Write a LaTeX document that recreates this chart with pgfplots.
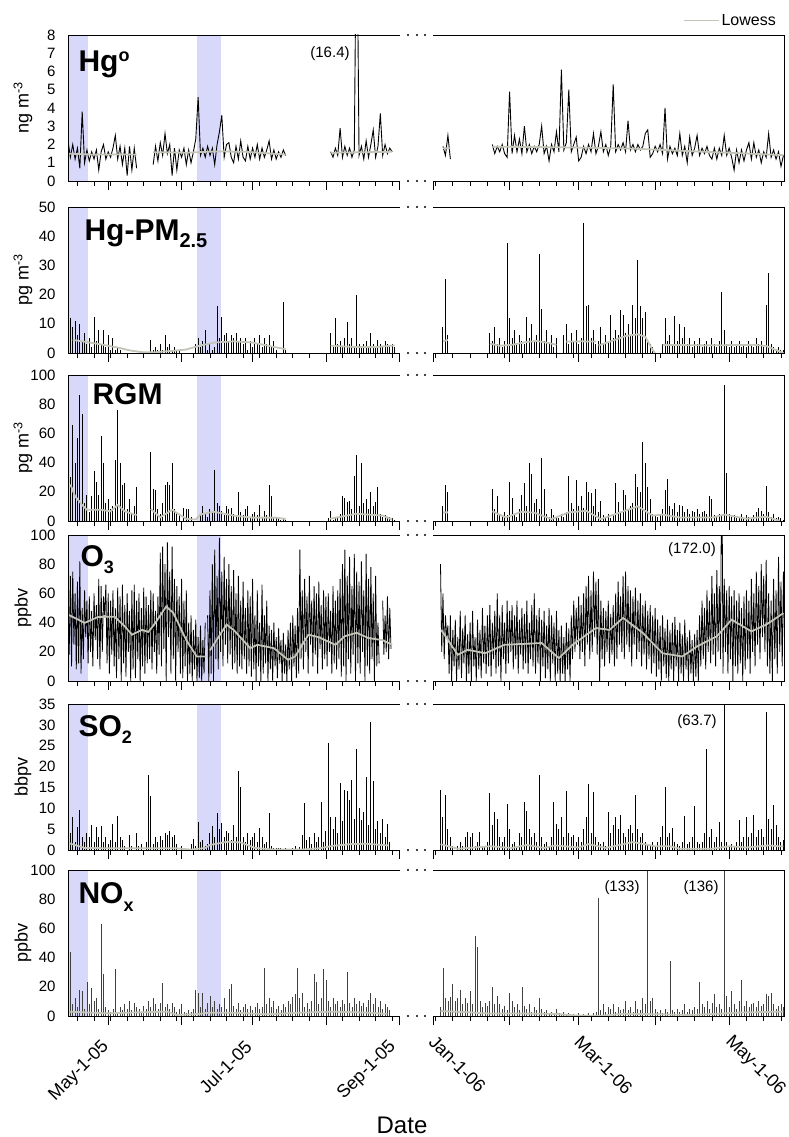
\documentclass[border=0pt]{standalone}
\usepackage{fontspec}
\setmainfont{Liberation Sans}
\usepackage{pgfplots}
\pgfplotsset{compat=1.18}

\definecolor{lowesscol}{RGB}{196,196,184}
\definecolor{shadecol}{RGB}{216,216,250}

% blue periods and the broken frame, in relative axis units
\newcommand{\shades}{%
  \fill[shadecol] (rel axis cs:0,0) rectangle (rel axis cs:0.0279,1);
  \fill[shadecol] (rel axis cs:0.1795,0) rectangle (rel axis cs:0.2130,1);
}
\newcommand{\brokenframe}{%
  \draw[black, line width=0.8pt] (rel axis cs:0.4637,0) -- (rel axis cs:0,0) -- (rel axis cs:0,1) -- (rel axis cs:0.4637,1);
  \draw[black, line width=0.8pt] (rel axis cs:0.5099,0) -- (rel axis cs:1,0) -- (rel axis cs:1,1) -- (rel axis cs:0.5099,1);
  \fill (rel axis cs:0.4749,0) circle[radius=1.1pt];
  \fill (rel axis cs:0.4874,0) circle[radius=1.1pt];
  \fill (rel axis cs:0.4987,0) circle[radius=1.1pt];
  \fill (rel axis cs:0.4749,1) circle[radius=1.1pt];
  \fill (rel axis cs:0.4874,1) circle[radius=1.1pt];
  \fill (rel axis cs:0.4987,1) circle[radius=1.1pt];
}

\tikzset{datelab/.style={font=\fontsize{18}{18}\selectfont, inner sep=0pt}}

\pgfplotsset{
  panel/.style={
    width=716pt, height=146pt, scale only axis, anchor=south west,
    xmin=0, xmax=302.6, ymin=0,
    axis line style={draw=none},
    clip mode=individual,
    unbounded coords=jump,
    xtick={17,48,78,109,140,154.3,186.62,215.82,248.14,279.42},
    minor xtick={4,11,...,137,155.34,162.64,169.94,177.24,184.54,191.84,199.14,206.44,213.73,221.03,228.33,235.63,242.93,250.23,257.53,264.83,272.13,286.72,294.02,301.32},
    xticklabels={},
    tick align=outside,
    xtick pos=left, ytick pos=left,
    major tick length=9pt, minor tick length=5pt,
    tick style={black, line width=0.8pt},
    ytick style={draw=none},
    yticklabel style={font=\fontsize{15}{15}\selectfont},
    /pgf/number format/assume math mode=true,
    ylabel style={at={(axis description cs:-0.063,0.5)}, anchor=center, font=\fontsize{18}{18}\selectfont},
  },
  trace/.style={black, line width=0.9pt, forget plot},
  spike/.style={ycomb, black, line width=1.0pt, forget plot},
  lowess/.style={color=lowesscol, line width=1.8pt},
}

\begin{document}
\begin{tikzpicture}
\path[use as bounding box] (0pt,0pt) rectangle (788pt,-1137pt);

% ---------------- Hg(0) ----------------
\begin{axis}[panel, at={(68pt,-181pt)}, ymax=8, ytick={0,1,...,8},
  ylabel={ng m\textsuperscript{-3}},
  legend style={at={(rel axis cs:1,1)}, anchor=south east, xshift=-6pt, yshift=6pt,
    draw=none, fill=none, inner sep=0pt, font=\fontsize{16}{16}\selectfont},
  legend image code/.code={\draw[#1] (0pt,0pt) -- (35pt,0pt);}]
\shades
\addplot[trace] table[row sep=\\, header=false, x expr=\coordindex, y index=0] {
2.2\\1.3\\2.0\\1.2\\1.8\\0.7\\3.8\\1.0\\1.7\\1.1\\
1.6\\1.2\\1.7\\0.6\\1.6\\2.0\\1.2\\1.6\\1.3\\1.8\\
2.5\\1.2\\1.9\\0.9\\1.8\\0.3\\1.9\\0.6\\1.8\\0.7\\
nan\\nan\\nan\\nan\\nan\\nan\\0.9\\1.9\\1.1\\2.1\\
1.4\\2.6\\1.5\\2.0\\0.3\\1.8\\0.6\\1.7\\1.3\\1.8\\
0.9\\1.7\\1.0\\1.6\\2.3\\4.6\\1.4\\1.8\\1.3\\1.9\\
1.4\\1.8\\0.9\\2.0\\2.7\\3.6\\1.3\\2.0\\2.1\\1.3\\
1.0\\1.9\\1.2\\2.2\\1.3\\1.1\\1.9\\1.2\\1.8\\1.3\\
2.0\\1.2\\1.8\\1.3\\1.7\\2.2\\1.2\\1.7\\1.2\\1.6\\
1.3\\1.7\\1.4\\nan\\nan\\nan\\nan\\nan\\nan\\nan\\
nan\\nan\\nan\\nan\\nan\\nan\\nan\\nan\\nan\\nan\\
nan\\1.6\\1.3\\1.8\\1.4\\2.9\\1.3\\1.9\\1.4\\1.8\\
1.3\\1.7\\16.4\\1.4\\1.9\\1.2\\2.2\\1.3\\2.0\\2.8\\
1.3\\1.9\\3.7\\1.4\\2.0\\1.5\\1.8\\1.6\\
};
\addplot[trace] table[row sep=\\, header=false, x expr=154.3+1.0427*\coordindex, y index=0] {
nan\\nan\\nan\\nan\\1.9\\1.4\\2.5\\1.2\\nan\\nan\\
nan\\nan\\nan\\nan\\nan\\nan\\nan\\nan\\nan\\nan\\
nan\\nan\\nan\\nan\\2.0\\1.5\\1.9\\1.6\\2.0\\1.5\\
1.3\\4.9\\1.5\\2.5\\1.6\\2.3\\1.5\\3.0\\1.6\\2.0\\
1.5\\1.9\\1.6\\2.0\\3.0\\1.5\\1.9\\1.1\\2.0\\1.6\\
2.7\\1.6\\6.1\\1.7\\2.1\\5.0\\1.6\\2.0\\2.4\\1.1\\
1.3\\1.9\\1.5\\2.0\\1.6\\2.6\\1.5\\1.9\\2.7\\1.6\\
2.0\\1.4\\1.9\\5.3\\1.6\\2.0\\1.7\\2.1\\1.6\\3.3\\
1.7\\2.0\\1.6\\2.0\\1.7\\1.9\\2.6\\2.8\\1.3\\1.5\\
1.9\\1.6\\2.0\\1.5\\4.0\\1.2\\1.9\\1.5\\1.8\\1.4\\
2.6\\1.4\\1.9\\1.0\\2.4\\1.4\\1.8\\2.5\\1.4\\1.8\\
1.5\\1.9\\1.4\\1.2\\1.8\\1.2\\1.8\\1.4\\2.5\\1.4\\
1.8\\1.3\\0.6\\1.7\\1.0\\1.7\\1.1\\1.7\\2.1\\1.2\\
2.1\\1.3\\1.7\\1.0\\1.6\\1.3\\2.6\\1.3\\1.7\\1.2\\
1.6\\0.8\\1.4\\
};
\addplot[lowess] coordinates {(0,1.5) (10,1.45) (29,1.45) (30,nan) (36,1.58) (50,1.55) (62,1.62) (75,1.6) (92,1.45) (93,nan) (111,1.55) (137,1.6) (140,nan)
 (158.47,1.8) (161.60,1.8) (162,nan) (179.32,1.88) (206.44,1.85) (237.72,1.78) (269.00,1.6) (302.36,1.42)};
\addlegendentry{Lowess}
\brokenframe
\end{axis}

% ---------------- Hg-PM2.5 ----------------
\begin{axis}[panel, at={(68pt,-353pt)}, ymax=50, ytick={0,10,...,50},
  ylabel={pg m\textsuperscript{-3}}]
\shades
\addplot[spike] table[row sep=\\, header=false, x expr=\coordindex, y index=0] {
nan\\12\\9\\11\\6\\10\\4\\7\\3\\5\\
2\\12.5\\4\\8\\3\\8\\2\\6\\1\\5\\
1\\2\\1\\nan\\nan\\nan\\nan\\nan\\nan\\nan\\
nan\\nan\\nan\\nan\\nan\\4.5\\1\\2\\1\\3\\
1\\6\\2\\3\\1\\2\\1\\1\\nan\\nan\\
nan\\nan\\nan\\nan\\3\\5\\2\\4\\8\\1\\
3\\1\\2\\16\\5\\12.5\\6\\7\\4\\6\\
5\\7\\4\\5\\3\\5\\1\\4\\2\\5\\
3\\6\\2\\5\\3\\6\\2\\4\\1\\nan\\
nan\\17.5\\1\\nan\\nan\\nan\\nan\\nan\\nan\\nan\\
nan\\nan\\nan\\nan\\nan\\nan\\nan\\nan\\nan\\nan\\
nan\\7\\2\\12\\3\\4\\2\\5\\10.5\\3\\
5\\2\\20\\3\\2\\3\\4\\2\\7\\3\\
2\\4.5\\3\\2\\4\\3\\2\\3\\2\\
};
\addplot[spike] table[row sep=\\, header=false, x expr=154.3+1.0427*\coordindex, y index=0] {
nan\\nan\\nan\\nan\\9\\25.3\\6\\nan\\nan\\nan\\
nan\\nan\\nan\\nan\\nan\\nan\\nan\\nan\\nan\\nan\\
nan\\nan\\nan\\7\\4\\9\\3\\5\\2\\4\\
37.7\\12\\5\\8\\3\\6\\4\\3\\12.5\\5\\
10\\4\\6\\33.9\\15\\4\\8\\3\\6\\2\\
5\\nan\\nan\\6\\10\\3\\7\\4\\8\\3\\
5\\44.5\\16\\16.5\\5\\8\\3\\4\\9\\3\\
6\\4\\13\\5\\8\\6\\14.8\\13\\7\\10\\
6\\16.5\\12\\32\\16\\12\\14\\4\\3\\2\\
nan\\nan\\nan\\3\\12\\4\\6\\3\\12.8\\4\\
10.1\\5\\9\\3\\5\\2\\4\\3\\5\\2\\
3\\4\\2\\5\\3\\2\\4\\20.8\\8\\3\\
2\\4\\2\\3\\4\\2\\3\\2\\4\\3\\
2\\5\\3\\4\\2\\16.6\\27.4\\3\\2\\1\\
2\\1\\1\\
};
\addplot[lowess, forget plot] coordinates {(2,4.5) (13,3.1) (22,1.7) (26,0.9) (31,0.3) (36,0.2) (45,0.8) (50,1.2) (55,2.4) (62,3.6) (70,4.0) (78,3.6) (85,2.4) (92,1.3) (93,nan)
 (111,2.5) (120,2.1) (130,2.0) (138,2.6) (140,nan)
 (158.47,4.0) (160.56,4.5) (161,nan) (178.28,3.2) (182.45,2.5) (187.67,2.8) (193.92,3.8) (198.09,4.1) (203.31,3.4) (206.44,2.8) (207,nan)
 (210.61,3.9) (216.86,4.0) (223.12,3.9) (223.6,nan) (224.16,2.6) (229.37,4.0) (235.63,5.8) (240.84,6.4) (243.97,5.6) (247.10,1.0) (248.14,0) (249,nan)
 (251.27,2.8) (269.00,2.6) (289.85,2.8) (295.06,2.4) (302.36,0)};
\brokenframe
\end{axis}

% ---------------- RGM ----------------
\begin{axis}[panel, at={(68pt,-521pt)}, ymax=100, ytick={0,20,...,100},
  ylabel={pg m\textsuperscript{-3}}]
\shades
\addplot[spike] table[row sep=\\, header=false, x expr=\coordindex, y index=0] {
15\\30\\65.6\\40\\57\\86\\73\\12\\18\\6\\
17\\34\\27\\18\\58.5\\40\\12\\15\\8\\10\\
42\\76\\40\\25\\26\\8\\15\\5\\10\\23\\
nan\\nan\\nan\\nan\\nan\\47\\22\\21\\8\\5\\
12\\25\\27\\25\\40\\8\\6\\5\\nan\\9\\
8\\8\\3\\nan\\nan\\nan\\4\\10\\5\\3\\
8\\6\\35\\12\\10\\7\\4\\10\\8\\9\\
5\\3\\20\\6\\4\\8\\10\\3\\5\\6\\
4\\11\\3\\7\\4\\25\\17\\3\\2\\3\\
1\\2\\1\\nan\\nan\\nan\\nan\\nan\\nan\\nan\\
nan\\nan\\nan\\nan\\nan\\nan\\nan\\nan\\nan\\nan\\
2\\7\\1\\3\\2\\5\\17\\16\\13\\14\\
8\\31\\45\\10\\40\\12\\15\\8\\20\\10\\
13\\23\\5\\3\\4\\2\\3\\2\\1\\
};
\addplot[spike] table[row sep=\\, header=false, x expr=154.3+1.0427*\coordindex, y index=0] {
nan\\nan\\nan\\nan\\10\\25\\20\\nan\\nan\\nan\\
nan\\nan\\nan\\nan\\nan\\nan\\nan\\nan\\nan\\nan\\
nan\\nan\\nan\\nan\\22\\8\\17\\5\\3\\6\\
4\\27\\16\\5\\3\\8\\18\\26\\10\\40\\
32\\12\\15\\8\\43\\22\\5\\3\\8\\4\\
3\\2\\5\\3\\6\\31\\12\\8\\28\\10\\
17\\9\\27\\20\\19\\10\\22\\6\\14\\4\\
3\\5\\2\\4\\26\\13\\6\\21\\18\\8\\
10\\12\\32\\23\\20\\54\\40\\23\\15\\5\\
4\\3\\5\\8\\21\\29\\10\\8\\12\\6\\
11\\10\\6\\8\\5\\7\\6\\8\\5\\6\\
7\\5\\17\\15\\4\\3\\5\\4\\93\\33\\
5\\3\\4\\2\\3\\5\\2\\4\\3\\2\\
4\\6\\9\\7\\5\\24\\6\\3\\5\\2\\
3\\2\\1\\
};
\addplot[lowess, forget plot] coordinates {(1,25) (3,17) (6,11) (8,7.7) (14,7.7) (18,6.6) (21,11) (24,6.6) (29,3.9) (30,nan)
 (35,8.2) (39,2.5) (44,7.7) (46.5,5) (50,1.5) (54,1) (56,4.5) (61.6,6.4) (70,3.7) (78,2.3) (88,2.3) (92,1.4) (93,nan)
 (110.7,1.5) (122,5) (133,3.7) (137,1) (140,nan)
 (158.47,5.9) (160.56,5.9) (161,nan) (179.32,6.6) (185.06,2.5) (191.84,6.4) (197.05,5.7) (204.35,1.3) (211.65,5.9) (218.95,7.0) (225.20,1.3)
 (233.02,5.7) (240.84,10) (247.10,3.7) (251.27,4.4) (258.57,2.4) (272.65,2.4) (277.34,4.4) (286.72,1.6) (295.06,3.0) (300.80,0)};
\brokenframe
\end{axis}

% ---------------- O3 ----------------
\begin{axis}[panel, at={(68pt,-681pt)}, ymax=100, ytick={0,20,...,100},
  ylabel={ppbv}]
\shades
\addplot[black, line width=0.8pt, forget plot] table[row sep=\\, header=false, x expr=0.5*\coordindex, y index=0] {
55\\18\\72\\10\\75\\25\\60\\8\\68\\12\\
82\\5\\50\\15\\62\\30\\55\\12\\58\\20\\
48\\10\\60\\28\\52\\15\\70\\8\\65\\20\\
58\\45\\66\\12\\60\\5\\55\\18\\62\\10\\
50\\2\\64\\15\\58\\0\\66\\12\\52\\3\\
60\\20\\48\\0\\62\\8\\66\\2\\55\\15\\
60\\0\\50\\10\\64\\5\\58\\12\\52\\15\\
62\\8\\60\\20\\48\\5\\58\\18\\88\\10\\
92\\22\\80\\0\\95\\30\\75\\5\\92\\15\\
70\\0\\65\\20\\58\\5\\70\\2\\55\\10\\
62\\0\\40\\5\\45\\0\\35\\8\\42\\0\\
30\\2\\38\\0\\28\\5\\40\\nan\\45\\0\\
62\\5\\80\\0\\90\\15\\72\\8\\98\\20\\
75\\10\\85\\25\\70\\12\\80\\18\\65\\8\\
76\\12\\60\\5\\72\\10\\55\\8\\68\\15\\
50\\5\\62\\10\\58\\3\\70\\8\\45\\0\\
62\\10\\40\\0\\66\\5\\45\\12\\55\\0\\
38\\8\\35\\0\\40\\10\\30\\2\\36\\12\\
28\\0\\33\\5\\25\\0\\35\\8\\40\\0\\
45\\10\\38\\2\\50\\5\\90\\15\\62\\8\\
70\\20\\58\\5\\72\\25\\55\\10\\65\\18\\
60\\5\\68\\22\\52\\8\\62\\15\\58\\10\\
60\\20\\48\\5\\65\\12\\55\\8\\62\\15\\
70\\3\\80\\10\\90\\0\\72\\15\\85\\5\\
65\\18\\87\\0\\75\\12\\68\\5\\82\\20\\
62\\0\\87\\10\\70\\5\\78\\15\\60\\0\\
72\\10\\40\\12\\nan\\nan\\55\\18\\45\\20\\
58\\15\\50\\22\\
};
\addplot[black, line width=0.8pt, forget plot] table[row sep=\\, header=false, x expr=154.3+1.0427*(3+0.5*\coordindex), y index=0] {
80\\20\\60\\15\\45\\30\\38\\5\\45\\0\\
35\\10\\42\\0\\30\\8\\48\\2\\36\\12\\
45\\0\\32\\5\\40\\0\\48\\10\\30\\0\\
42\\8\\35\\2\\50\\12\\38\\5\\45\\10\\
52\\3\\40\\15\\48\\5\\60\\10\\45\\0\\
52\\15\\40\\5\\55\\12\\48\\20\\52\\8\\
45\\15\\55\\5\\42\\18\\50\\8\\46\\12\\
55\\5\\40\\15\\52\\10\\60\\5\\45\\12\\
50\\0\\42\\10\\48\\2\\38\\8\\50\\0\\
45\\12\\40\\0\\48\\5\\35\\0\\38\\5\\
30\\0\\40\\8\\36\\0\\45\\15\\55\\20\\
50\\25\\58\\15\\52\\20\\60\\10\\65\\25\\
72\\15\\62\\20\\75\\30\\68\\18\\70\\0\\
55\\15\\50\\10\\48\\20\\55\\12\\46\\18\\
52\\10\\60\\15\\68\\25\\58\\20\\72\\15\\
75\\25\\65\\20\\62\\10\\58\\25\\64\\15\\
55\\20\\60\\10\\52\\18\\55\\8\\48\\15\\
52\\5\\45\\12\\50\\3\\42\\8\\38\\0\\
45\\10\\36\\2\\42\\0\\35\\8\\40\\0\\
44\\10\\35\\0\\40\\5\\32\\0\\42\\8\\
30\\0\\35\\5\\28\\0\\32\\3\\35\\0\\
45\\10\\55\\15\\50\\8\\62\\20\\55\\12\\
72\\18\\60\\10\\76\\20\\65\\15\\172\\5\\
70\\20\\62\\5\\65\\15\\58\\0\\62\\10\\
55\\5\\60\\12\\50\\0\\58\\8\\62\\15\\
55\\5\\70\\20\\60\\10\\75\\25\\65\\15\\
80\\30\\72\\20\\83\\10\\60\\5\\55\\0\\
70\\15\\62\\5\\85\\20\\68\\10\\75\\25\\
};
\addplot[lowess, forget plot] coordinates {(0,45.5) (7,39.8) (12.7,43.9) (19.7,44) (24,37.5) (27,31.7) (31.3,35) (34,33.6) (37,40) (41.5,51) (44.5,46.7) (50,28) (54.4,16.8) (58.5,16.8) (59,nan)
 (60,21) (67,38.6) (70,35) (77,22.5) (80,24.8) (87,22.5) (93,14.5) (96,16.8) (101.6,31.7) (106,30) (113,24.8) (117,30.7) (122,33) (127,29.4) (133,28) (137,24.8) (140,nan)
 (157.74,35) (164.73,18) (168.90,21.4) (176.20,19) (184.54,24.8) (200.18,26) (207.48,15.6) (213.21,24.8) (223.12,36.3) (228.85,35) (234.59,43.2) (242.93,32.9)
 (251.27,19) (259.61,16.8) (265.87,23.7) (274.21,30.6) (280.47,42) (288.81,34) (295.06,38.6) (302.36,46.5)};
\brokenframe
\end{axis}

% ---------------- SO2 ----------------
\begin{axis}[panel, at={(68pt,-850pt)}, ymax=35, ytick={0,5,...,35},
  ylabel={bbpv}]
\shades
\addplot[spike] table[row sep=\\, header=false, x expr=\coordindex, y index=0] {
3\\4\\7.8\\2\\5.5\\9.6\\3\\2\\4\\3\\
6.1\\2\\5.5\\3\\5.8\\2\\3\\1.5\\2.5\\6.3\\
2\\8.1\\3\\2.5\\1\\nan\\3.5\\1\\nan\\4\\
1\\1.5\\nan\\2\\18\\13\\1.5\\3\\2\\3.3\\
2.5\\4\\3.5\\4.5\\3\\3.5\\1.5\\nan\\1\\nan\\
nan\\nan\\1.5\\2.7\\1\\6.7\\2\\2.4\\1\\1.5\\
4\\5.7\\3\\8.8\\5\\6.5\\3\\4.5\\4\\2.5\\
6\\3\\19\\15.2\\3\\2\\4\\2.5\\3\\4\\
2\\5.3\\3\\1.5\\2\\8.8\\1\\0.5\\0.5\\0.5\\
0.5\\0.3\\0.5\\0.3\\nan\\0.5\\1\\nan\\0.8\\3.5\\
11.2\\2.5\\3\\1.5\\4\\2\\3\\11.6\\2\\4.5\\
25.7\\7.8\\5\\8\\4\\16\\7\\14.3\\14.2\\12\\
16.7\\7.5\\24.3\\10\\7.3\\9\\17.4\\6\\30.8\\16.5\\
5\\7\\4\\7.5\\3\\6.3\\2\\
};
\addplot[spike] table[row sep=\\, header=false, x expr=154.3+1.0427*\coordindex, y index=0] {
nan\\nan\\nan\\14.5\\8\\13.2\\5\\3\\1\\nan\\
1\\2\\1\\3\\4.3\\3\\4\\1\\2\\4.3\\
1\\1\\2\\13.6\\6\\9\\7.5\\3\\2\\3\\
11.1\\5\\1.5\\2\\1\\4\\3\\11.5\\9.3\\5\\
3\\4\\2\\18\\3\\1.5\\2\\1\\3\\11.5\\
6.3\\5\\8\\3\\14.2\\4\\3\\3.5\\2\\3\\
2\\5\\8\\15.8\\4\\13.8\\3\\2\\1.5\\2\\
1\\9.2\\4\\6\\8\\5\\8.4\\4\\3\\5\\
6\\4\\13.2\\5\\3\\4\\2\\1.5\\1\\2\\
1\\2\\3\\5.7\\15\\3\\4\\5.3\\2\\1.5\\
1\\2\\8.2\\1.5\\2\\3\\10.6\\2\\1.5\\2\\
4\\24.3\\3\\5\\2\\3\\6.7\\2\\63.7\\2\\
1\\1.5\\1\\2\\7.2\\2\\3\\7.9\\3\\4\\
8.5\\3\\4.7\\5\\3\\33\\7.5\\5\\10.8\\6\\
3\\2\\2.5\\
};
\addplot[lowess, forget plot] coordinates {(0,1.7) (7,0.5) (20,0.4) (46,0.4) (52,0.1) (58,0.5) (60,1.2) (67.5,2.0) (73,1.8) (79,0.5) (87,0.1) (98,0.1) (106,0.4) (112,1.0) (119,1.4) (126,1.5) (135.4,1.1) (137,nan)
 (157.43,1.4) (164.73,0.3) (178.28,0.9) (187.67,0.5) (193.92,1.2) (201.22,0.5) (205.91,1.1) (215.82,0.6) (219.99,1.4) (227.29,0.5) (238.76,1.9) (248.14,0.9)
 (254.40,0.9) (258.57,0.3) (272.13,0.3) (279.42,0.9) (286.72,0.6) (296.11,1.1) (300.28,0.9) (302.36,0.9)};
\brokenframe
\end{axis}

% ---------------- NOx ----------------
\begin{axis}[panel, at={(68pt,-1016pt)}, ymax=100, ytick={0,20,...,100},
  ylabel={ppbv}]
\shades
\addplot[spike, black!75, line width=0.8pt] table[row sep=\\, header=false, x expr=\coordindex, y index=0] {
5\\44\\8\\12\\6\\18\\17\\5\\23\\8\\
19\\10\\12\\5\\63\\29\\6\\4\\3\\5\\
32\\3\\6\\4\\8\\5\\10\\4\\9\\6\\
5\\3\\7\\5\\10\\6\\12\\8\\5\\9\\
22.5\\6\\8\\5\\9\\6\\3\\5\\8\\3\\
2\\4\\3\\5\\18\\16\\6\\16\\5\\9\\
14\\6\\10\\5\\8\\6\\12\\5\\18.5\\22\\
7\\5\\9\\4\\6\\8\\5\\7\\4\\6\\
9\\5\\6\\33\\8\\12\\6\\10\\5\\7\\
4\\8\\6\\10\\8\\13\\15\\33\\12\\16\\
6\\9\\5\\10\\28.5\\23\\8\\12\\32\\25\\
10\\6\\12\\8\\10\\6\\11\\8\\30\\9\\
6\\12\\8\\10\\7\\9\\6\\11\\15.5\\8\\
12\\6\\10\\5\\8\\6\\4\\
};
\addplot[spike, black!75, line width=0.8pt] table[row sep=\\, header=false, x expr=154.3+1.0427*\coordindex, y index=0] {
nan\\nan\\nan\\6\\33\\12\\10\\13\\22\\10\\
12\\18\\8\\12\\9\\17\\8\\55\\47\\10\\
6\\9\\7\\10\\20\\8\\14\\8\\5\\7\\
4\\15.5\\10\\6\\8\\4\\20\\7\\5\\8\\
3\\6\\4\\12\\5\\3\\4\\2\\3\\2\\
5\\2\\1.5\\3\\1\\2\\1\\1.5\\1\\2\\
1\\1.5\\1\\2\\1\\2\\3\\81\\4\\8\\
3\\6\\5\\8\\3\\6\\4\\5\\10\\4\\
6\\3\\10\\5\\4\\12\\8\\133\\10\\12\\
5\\3\\4\\2\\5\\3\\38\\4\\3\\5\\
3\\4\\8\\3\\5\\4\\6\\5\\23\\8\\
6\\10\\5\\9\\15\\6\\8\\5\\136\\14\\
6\\17\\8\\5\\10\\24.4\\7\\10\\6\\8\\
9\\6\\10\\7\\8\\15\\14\\15.7\\8\\5\\
7\\8\\6\\
};
\addplot[lowess, forget plot] coordinates {(0,3) (17,1.8) (30,2.5) (42,3) (46,0.7) (55,1.4) (60,2.3) (70,2.3) (84,1.2) (98,2.3) (112,3) (127,2.3) (135,1.4) (137,nan)
 (157.43,3.4) (170,2.5) (176.20,1.8) (200,1.6) (206.44,1.4) (215,0.3) (225,0.2) (235,1.5) (250,1.2) (262,0.7) (270,1.2) (283,2.3) (295,2.8) (302.36,3)};
\brokenframe
% date labels: 2005 ones end at their tick, 2006 ones start at it
\node[datelab, rotate=45, anchor=east] at ([xshift=-2pt, yshift=-28pt]axis cs:17,0) {May-1-05};
\node[datelab, rotate=45, anchor=east] at ([xshift=-4pt, yshift=-28pt]axis cs:78,0) {Jul-1-05};
\node[datelab, rotate=45, anchor=east] at ([xshift=-6pt, yshift=-28pt]axis cs:140,0) {Sep-1-05};
\node[datelab, rotate=-45, anchor=west] at ([xshift=-1pt, yshift=-23pt]axis cs:154.3,0) {Jan-1-06};
\node[datelab, rotate=-45, anchor=west] at ([xshift=-1pt, yshift=-23pt]axis cs:215.82,0) {Mar-1-06};
\node[datelab, rotate=-45, anchor=west] at ([xshift=-1pt, yshift=-23pt]axis cs:279.42,0) {May-1-06};
\end{axis}

% panel names and notes
\node[anchor=base west, font=\fontsize{30}{30}\selectfont\bfseries] at (75pt,-72pt) {Hg\raisebox{10pt}{\fontsize{18}{18}\selectfont o}};
\node[anchor=base west, font=\fontsize{30}{30}\selectfont\bfseries] at (81pt,-240pt) {Hg-PM\raisebox{-7pt}{\fontsize{20}{20}\selectfont 2.5}};
\node[anchor=base west, font=\fontsize{30}{30}\selectfont\bfseries] at (89pt,-404pt) {RGM};
\node[anchor=base west, font=\fontsize{30}{30}\selectfont\bfseries] at (77pt,-566pt) {O\raisebox{-7pt}{\fontsize{18}{18}\selectfont 3}};
\node[anchor=base west, font=\fontsize{30}{30}\selectfont\bfseries] at (75pt,-736pt) {SO\raisebox{-7pt}{\fontsize{18}{18}\selectfont 2}};
\node[anchor=base west, font=\fontsize{30}{30}\selectfont\bfseries] at (75pt,-903pt) {NO\raisebox{-8pt}{\fontsize{18}{18}\selectfont x}};

\node[font=\fontsize{15}{15}\selectfont] at (330pt,-54pt) {(16.4)};
\node[font=\fontsize{15}{15}\selectfont] at (692pt,-550pt) {(172.0)};
\node[font=\fontsize{15}{15}\selectfont] at (697pt,-722pt) {(63.7)};
\node[font=\fontsize{15}{15}\selectfont] at (622pt,-888pt) {(133)};
\node[font=\fontsize{15}{15}\selectfont] at (701pt,-888pt) {(136)};

\node[anchor=base, font=\fontsize{24}{24}\selectfont] at (402pt,-1133pt) {Date};
\end{tikzpicture}
\end{document}
